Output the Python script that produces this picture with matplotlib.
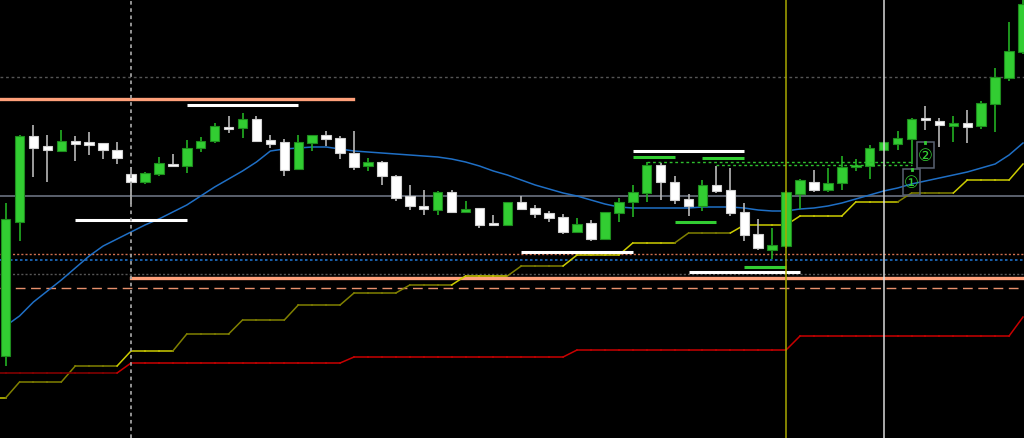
import numpy as np
import matplotlib.pyplot as plt
from matplotlib.patches import Rectangle

# candles (open, high, low, close)
opens = [82, 216, 302, 292, 287, 297, 296, 295, 288, 264, 256, 264, 274, 272, 290, 297, 311, 310, 319, 298,
         296, 269, 295, 303, 300, 285, 272, 276, 262, 242, 232, 228, 246, 226, 230, 215, 213, 236, 230, 225,
         221, 206, 215, 199, 225, 236, 245, 273, 256, 239, 232, 253, 248, 226, 204, 188, 192, 244, 256, 248,
         255, 271, 272, 288, 294, 299, 320, 317, 312, 315, 312, 334, 360, 386]
highs = [235, 303, 313, 303, 308, 302, 306, 295, 296, 271, 266, 281, 284, 298, 301, 315, 322, 325, 322, 303,
         299, 303, 303, 307, 302, 307, 280, 277, 263, 253, 248, 247, 248, 237, 230, 223, 236, 242, 233, 227,
         224, 220, 218, 226, 240, 253, 276, 275, 262, 244, 258, 272, 270, 235, 219, 210, 247, 259, 268, 270,
         282, 279, 293, 296, 307, 320, 332, 320, 322, 328, 337, 370, 416, 449]
lows = [72, 197, 261, 256, 286, 277, 283, 279, 274, 234, 254, 262, 271, 265, 286, 295, 305, 300, 296, 290,
        262, 268, 287, 292, 279, 268, 267, 253, 237, 228, 223, 223, 225, 225, 210, 212, 212, 228, 220, 216,
        204, 205, 197, 198, 216, 221, 236, 238, 234, 222, 227, 245, 222, 197, 188, 179, 190, 229, 246, 246,
        248, 267, 259, 287, 288, 274, 308, 291, 296, 295, 309, 306, 357, 384]
closes = [219, 302, 290, 288, 297, 294, 293, 288, 280, 256, 265, 275, 272, 290, 297, 312, 309, 319, 297, 294,
          268, 296, 303, 299, 285, 271, 276, 262, 240, 232, 229, 246, 226, 229, 213, 213, 236, 229, 224, 220,
          206, 214, 199, 226, 236, 246, 273, 256, 238, 232, 253, 247, 225, 203, 190, 193, 246, 258, 248, 255,
          271, 272, 290, 296, 300, 319, 318, 313, 315, 311, 335, 361, 387, 434]

# moving average
ma = [112, 122, 136, 147, 158, 170, 182, 192, 199, 206, 213, 219, 226, 233, 242, 251, 259, 267, 276, 287,
      289, 290, 291, 291, 289, 287, 286, 285, 284, 283, 282, 281, 279, 276, 272, 267, 263, 258, 253, 249,
      245, 242, 238, 234, 231, 230, 230, 230, 230, 230, 231, 231, 231, 230, 228, 227, 227, 229, 230, 232,
      235, 239, 243, 247, 250, 254, 257, 260, 263, 266, 270, 274, 283, 295]

# trailing stop (yellow) and its state, long stop (red)
stop_levels = [40, 56, 72, 87, 104, 118, 133, 145, 153, 162, 172, 183, 195, 205, 213, 222, 236, 245, 258, 274]
stop_bright = [1, 0, 0, 1, 0, 0, 0, 0, 0, 1, 0, 1, 1, 0, 1, 1, 1, 0, 1, 1]
red_levels = [65, 75, 81, 88, 102, 121]

# horizontal levels
top_resist = 339
low_support = 160
dotted_salmon = 184
dotted_blue = 178
dotted_gray = 164
dashed_salmon = 150
mid_gray = 242
high_dotted = 361

# short white / green segments: (start index, end index, level)
white_segs = [(5, 13, 218), (13, 21, 333), (37, 45, 186), (45, 53, 287), (49, 57, 166)]
green_segs = [(45, 48, 281), (50, 53, 280), (48, 51, 216), (53, 56, 171)]
green_dashed = [(46, 65, 276), (51, 65, 273)]

n = len(closes)
x = np.arange(n)

# yellow steps: one level every 4 bars after the first
stop = [stop_levels[0]] + [stop_levels[1 + (i - 1) // 4] for i in range(1, n)]
stop_col = [stop_bright[0]] + [stop_bright[1 + (i - 1) // 4] for i in range(1, n)]
red = [red_levels[0]] * 9 + [red_levels[1 + (i - 9) // 16] for i in range(9, n)]

fig = plt.figure(figsize=(10.24, 4.39), dpi=100, facecolor='black')
ax = fig.add_axes([0, 0, 1, 1])
ax.set_facecolor('black')
ax.set_xlim(-0.4, 73.07)
ax.set_ylim(0, 439)
ax.axis('off')

# levels
ax.axhline(high_dotted, color='#555555', lw=1, ls=(0, (2, 2)), zorder=1)
ax.axhline(mid_gray, color='#6a7280', lw=1.2, zorder=1)
ax.axhline(dotted_salmon, color='#d07050', lw=1, ls=(0, (1.5, 1.5)), zorder=1)
ax.axhline(dotted_blue, color='#1e6fc8', lw=1.2, ls=(0, (1.5, 1.5)), zorder=1)
ax.axhline(dotted_gray, color='#555555', lw=1, ls=(0, (1.5, 1.5)), zorder=1)
ax.axhline(dashed_salmon, color='#e8906c', lw=1, ls=(0, (7, 4)), zorder=1)
ax.plot([-0.4, 24.9], [top_resist, top_resist], color='#ffa07a', lw=2.4, zorder=1)
ax.plot([9, 73.07], [low_support, low_support], color='#ffa07a', lw=2.4, zorder=1)

# indicators (continue from the left edge)
ax.plot(x, ma, color='#1f6fc5', lw=1.1, zorder=2)
ax.plot([-0.4, 0], [stop[0], stop[0]], color='#cccc00', lw=1.1, zorder=2)
ax.plot([-0.4, 0], [red[0], red[0]], color='#8b0000', lw=1.1, zorder=2)
for i in range(1, n):
    col = '#cccc00' if stop_col[i] else '#808000'
    ax.plot([i - 1, i], [stop[i - 1], stop[i]], color=col, lw=1.1, zorder=2)
for i in range(1, n):
    col = '#8b0000' if i < 9 else '#c80000'
    ax.plot([i - 1, i], [red[i - 1], red[i]], color=col, lw=1.1, zorder=2)

# candles
o = np.array(opens)
c = np.array(closes)
up = c > o
wick_col = ['#22b022' if u else '#b8b8b8' for u in up]
ax.vlines(x, lows, highs, colors=wick_col, lw=1.2, zorder=3)
bottom = np.minimum(o, c)
height = np.maximum(np.abs(c - o), 2)
ax.bar(x, height, bottom=bottom, width=0.68,
       color=['#32cd32' if u else 'white' for u in up],
       edgecolor=['#1e8c1e' if u else '#d0d0d0' for u in up], lw=0.8, zorder=3)

# short segments
for a, b, lv in white_segs:
    ax.plot([a, b], [lv, lv], color='white', lw=2.2, solid_capstyle='butt', zorder=4)
for a, b, lv in green_segs:
    ax.plot([a, b], [lv, lv], color='#32cd32', lw=2.2, solid_capstyle='butt', zorder=4)
for a, b, lv in green_dashed:
    ax.plot([a, b], [lv, lv], color='#2ec02e', lw=1, ls=(0, (2, 2)), zorder=4)

# vertical markers
ax.axvline(9, color='#a0a0a0', lw=1.3, ls=(0, (2, 2)), zorder=5)
ax.axvline(56, color='#a8a800', lw=1.1, zorder=5)
ax.axvline(63, color='#d8d8d8', lw=1.1, zorder=5)

# numbered signals
for num, idx, lv in [('\u2460', 65, 256), ('\u2461', 66, 283)]:
    ax.add_patch(Rectangle((idx - 0.62, lv - 13), 1.24, 26, fill=False,
                           edgecolor='#5a6272', lw=1.1, zorder=6))
    ax.plot([idx, idx], [lv + 12, lv + 13.5], color='#32cd32', lw=2, zorder=6)
    ax.text(idx, lv, num, color='#32cd32', fontsize=12, ha='center', va='center',
            family=['DejaVu Sans', 'Noto Sans CJK JP'], zorder=6)

plt.savefig('out.png', dpi=100, facecolor='black')
